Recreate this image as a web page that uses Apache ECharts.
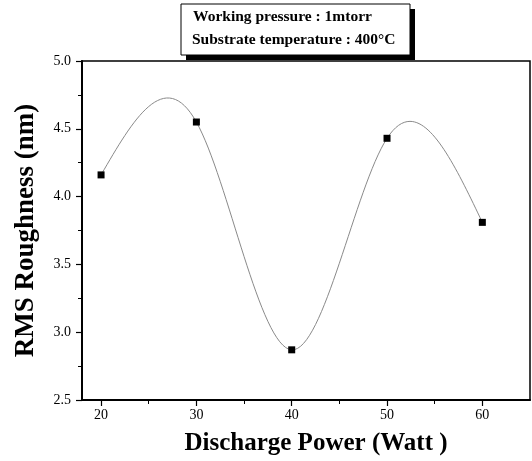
<!DOCTYPE html>
<html>
<head>
<meta charset="utf-8">
<script src="https://cdn.jsdelivr.net/npm/echarts@6/dist/echarts.min.js"></script>
<style>
html,body{margin:0;padding:0;background:#fff;}
#chart{width:532px;height:461px;}
</style>
</head>
<body>
<div id="chart"></div>
<script>
// ---- data ----
var powerWatt = [20, 30, 40, 50, 60];
var rmsRoughness = [4.16, 4.55, 2.87, 4.43, 3.81];
var xTickValues = [20, 30, 40, 50, 60];
var xMinorTickValues = [25, 35, 45, 55];
var noteLines = ['Working pressure : 1mtorr', 'Substrate temperature : 400°C'];
var xTitle = 'Discharge Power (Watt )';
var yTitle = 'RMS Roughness (nm)';

var serif = '"Liberation Serif", "Times New Roman", serif';
var chart = echarts.init(document.getElementById('chart'), null, {renderer: 'canvas'});

var seriesData = powerWatt.map(function (x, i) { return [x, rmsRoughness[i]]; });

// Natural cubic spline through the measured points, rendered as Bezier segments
// (control points are mapped through the axis scales with api.coord).
function naturalSplineSegments(xs, ys) {
  var n = xs.length;
  var h = [], i;
  for (i = 0; i < n - 1; i++) h.push(xs[i + 1] - xs[i]);
  var a = [], b = [], c = [], d = [];
  for (i = 1; i < n - 1; i++) {
    a.push(h[i - 1]);
    b.push(2 * (h[i - 1] + h[i]));
    c.push(h[i]);
    d.push(6 * ((ys[i + 1] - ys[i]) / h[i] - (ys[i] - ys[i - 1]) / h[i - 1]));
  }
  var m = d.length;
  for (i = 1; i < m; i++) {
    var w = a[i] / b[i - 1];
    b[i] -= w * c[i - 1];
    d[i] -= w * d[i - 1];
  }
  var inner = new Array(m);
  for (i = m - 1; i >= 0; i--) {
    inner[i] = (d[i] - (i < m - 1 ? c[i] * inner[i + 1] : 0)) / b[i];
  }
  var M = [0].concat(inner).concat([0]);
  var segs = [];
  for (i = 0; i < n - 1; i++) {
    var hi = h[i];
    var slope = (ys[i + 1] - ys[i]) / hi;
    var d0 = slope - hi * (2 * M[i] + M[i + 1]) / 6;
    var d1 = slope + hi * (M[i] + 2 * M[i + 1]) / 6;
    segs.push({
      p0: [xs[i], ys[i]],
      c1: [xs[i] + hi / 3, ys[i] + d0 * hi / 3],
      c2: [xs[i + 1] - hi / 3, ys[i + 1] - d1 * hi / 3],
      p1: [xs[i + 1], ys[i + 1]]
    });
  }
  return segs;
}
var splineSegs = naturalSplineSegments(powerWatt, rmsRoughness);

chart.setOption({
  animation: false,
  backgroundColor: '#fff',
  grid: {left: 82, right: 2, top: 61, bottom: 59, show: true, borderColor: '#000', borderWidth: 1.5, backgroundColor: 'transparent'},
  xAxis: [{
    type: 'value', min: 18, max: 65,
    name: xTitle, nameLocation: 'middle', nameGap: 31,
    nameTextStyle: {fontFamily: serif, fontWeight: 'bold', fontSize: 25, color: '#000', padding: [0, 0, 0, 20]},
    axisLine: {show: true, lineStyle: {color: '#000', width: 2}},
    axisTick: {show: true, inside: false, length: 6, customValues: xTickValues, lineStyle: {color: '#000', width: 1.2}},
    axisLabel: {show: true, customValues: xTickValues, margin: 8, fontFamily: serif, fontSize: 14, color: '#000'},
    splitLine: {show: false}
  }, {
    type: 'value', min: 18, max: 65, position: 'bottom',
    axisLine: {show: false},
    axisTick: {show: true, inside: false, length: 4, customValues: xMinorTickValues, lineStyle: {color: '#000', width: 1}},
    axisLabel: {show: false},
    splitLine: {show: false}
  }],
  yAxis: {
    type: 'value', min: 2.5, max: 5.0, interval: 0.5,
    name: yTitle, nameLocation: 'middle', nameGap: 42,
    nameTextStyle: {fontFamily: serif, fontWeight: 'bold', fontSize: 27, color: '#000'},
    axisLine: {show: true, lineStyle: {color: '#000', width: 2}},
    axisTick: {show: true, inside: false, length: 6, lineStyle: {color: '#000', width: 1.2}},
    minorTick: {show: true, splitNumber: 2, length: 4, lineStyle: {color: '#000', width: 1}},
    axisLabel: {margin: 11, fontFamily: serif, fontSize: 14, color: '#000',
      formatter: function (v) { return v.toFixed(1); }},
    splitLine: {show: false}
  },
  series: [{
    type: 'custom',
    xAxisIndex: 0,
    data: seriesData,
    silent: true,
    z: 2,
    renderItem: function (params, api) {
      if (params.dataIndex !== 0) return null;
      var children = splineSegs.map(function (s) {
        var p0 = api.coord(s.p0), c1 = api.coord(s.c1), c2 = api.coord(s.c2), p1 = api.coord(s.p1);
        return {
          type: 'bezierCurve',
          shape: {x1: p0[0], y1: p0[1], cpx1: c1[0], cpy1: c1[1], cpx2: c2[0], cpy2: c2[1], x2: p1[0], y2: p1[1]},
          style: {stroke: '#8a8a8a', lineWidth: 1, fill: null}
        };
      });
      return {type: 'group', children: children};
    }
  }, {
    type: 'scatter',
    xAxisIndex: 0,
    data: seriesData,
    symbol: 'rect',
    symbolSize: 7,
    itemStyle: {color: '#000', opacity: 1},
    z: 3
  }],
  graphic: [
    {type: 'rect', shape: {x: 186, y: 9, width: 229, height: 51}, style: {fill: '#000'}, z: 10},
    {type: 'rect', shape: {x: 181, y: 4, width: 229, height: 51}, style: {fill: '#fff', stroke: '#000', lineWidth: 1}, z: 11},
    {type: 'text', x: 193, y: 16.5, style: {text: noteLines[0], font: 'bold 15.5px ' + serif, fill: '#000', verticalAlign: 'middle'}, z: 12},
    {type: 'text', x: 192, y: 39.8, style: {text: noteLines[1], font: 'bold 15.5px ' + serif, fill: '#000', verticalAlign: 'middle'}, z: 12}
  ]
});
</script>
</body>
</html>
